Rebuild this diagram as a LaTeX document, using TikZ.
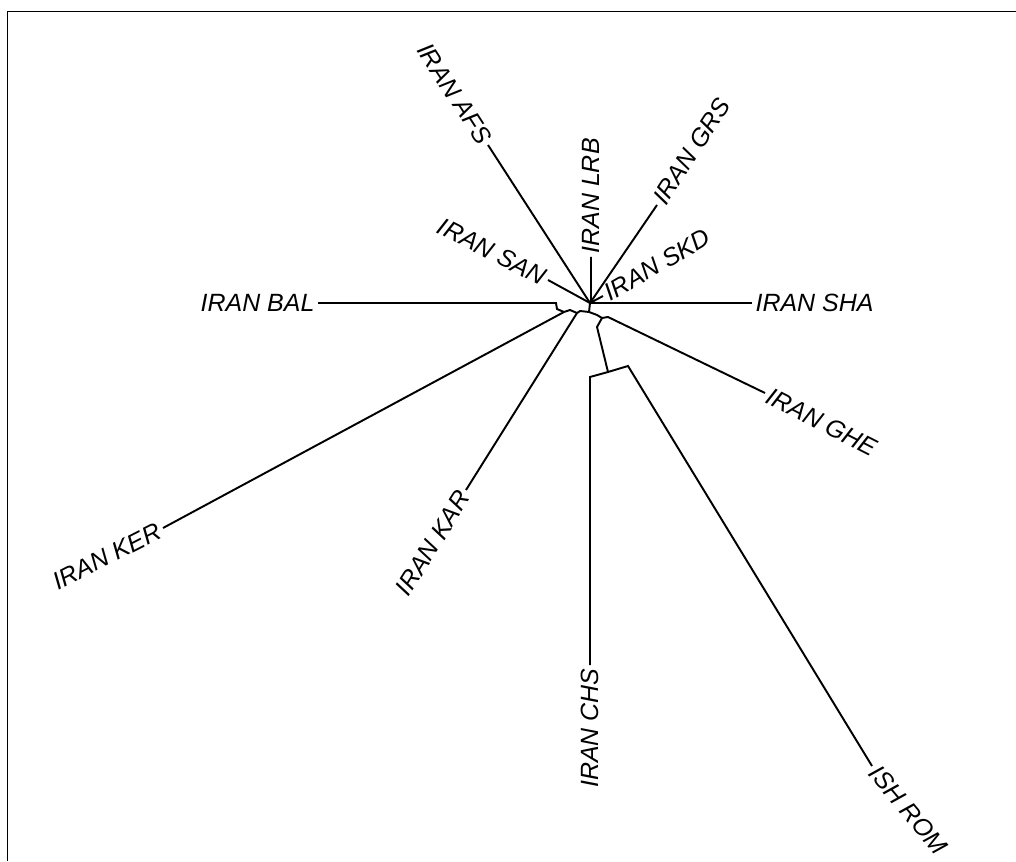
\documentclass[tikz,border=0pt]{standalone}
\usepackage{fontspec}
\setmainfont{Liberation Sans}
\usepackage{tikz}

\begin{document}
\begin{tikzpicture}[x=0.02cm,y=-0.02cm,line width=1.1pt,
	leaf/.style={font=\itshape\fontsize{14.2}{16}\selectfont,inner sep=1.5pt}]
	%\draw[help lines] (0,0) grid (1016,861);
	\useasboundingbox (0,0) rectangle (1016,861);
	\draw[line width=0.8pt] (7.5,861) -- (7.5,11.5) -- (1016,11.5);
	% inner points of the tree
	\coordinate (hub) at (590,303);
	\coordinate (a) at (589,312);
	\coordinate (kar0) at (577,313);
	\coordinate (ker0) at (564,312);
	\coordinate (r) at (602,318);
	\coordinate (cs) at (608,372);
	% leaves
	\node[leaf,rotate=-57,anchor=east] (afs) at (488,145) {IRAN AFS};
	\node[leaf,rotate=90,anchor=west] (lrb) at (591,257) {IRAN LRB};
	\node[leaf,rotate=57,anchor=west] (grs) at (657,205) {IRAN GRS};
	\node[leaf,rotate=-27,anchor=east] (san) at (548,280) {IRAN SAN};
	\node[leaf,rotate=30,anchor=west] (skd) at (603,296) {IRAN SKD};
	\node[leaf,anchor=west] (sha) at (752,303) {IRAN SHA};
	\node[leaf,anchor=east] (bal) at (318,303) {IRAN BAL};
	\node[leaf,rotate=-27,anchor=west] (ghe) at (765,393) {IRAN GHE};
	\node[leaf,rotate=27,anchor=east] (ker) at (163,528) {IRAN KER};
	\node[leaf,rotate=58,anchor=east] (kar) at (466,490) {IRAN KAR};
	\node[leaf,rotate=90,anchor=east] (chs) at (590,665) {IRAN CHS};
	\node[leaf,rotate=-50,anchor=west] (ish) at (872,766) {ISH ROM};
	% branches
	\draw (afs.east) -- (hub);
	\draw (san.east) -- (hub);
	\draw (lrb.west) -- (591,300) -- (hub);
	\draw (grs.west) -- (hub);
	\draw (skd.west) -- (hub);
	\draw (sha.west) -- (603,303) -- (hub);
	\draw (hub) -- (a);
	\draw (a) -- (580,311) -- (kar0);
	\draw (kar0) -- (570,310) -- (ker0);
	\draw (ker0) -- (557,309) -- (556,303) -- (bal.east);
	\draw (ker0) -- (ker.east);
	\draw (kar0) -- (kar.east);
	\draw (a) -- (597,315) -- (r);
	\draw (r) -- (608,317) -- (ghe.west);
	\draw (r) -- (597,327) -- (cs);
	\draw (cs) -- (590,377) -- (chs.east);
	\draw (cs) -- (628,366) -- (ish.west);
\end{tikzpicture}
\end{document}
